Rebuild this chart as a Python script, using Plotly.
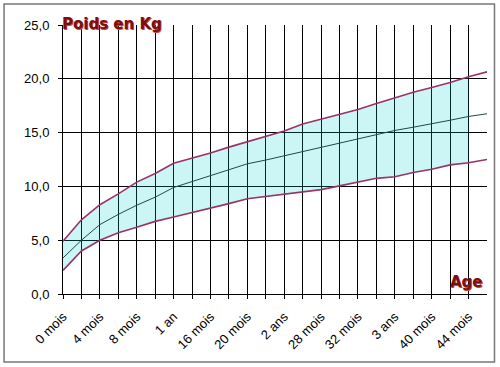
import plotly.graph_objects as go

months = [0, 2, 4, 6, 8, 10, 12, 14, 16, 18, 20, 22, 24, 26, 28, 30, 32, 34, 36, 38, 40, 42, 44, 46]
upper = [4.9, 6.9, 8.3, 9.3, 10.4, 11.2, 12.15, 12.6, 13.1, 13.65, 14.15, 14.6, 15.15, 15.8, 16.25, 16.7, 17.15, 17.7, 18.25, 18.75, 19.2, 19.65, 20.2, 20.65]
middle = [3.35, 5.0, 6.45, 7.4, 8.25, 9.0, 9.9, 10.45, 10.95, 11.5, 12.1, 12.45, 12.85, 13.25, 13.6, 14.0, 14.45, 14.8, 15.2, 15.5, 15.8, 16.15, 16.5, 16.75]
lower = [2.2, 4.0, 5.0, 5.7, 6.2, 6.75, 7.15, 7.55, 7.95, 8.4, 8.85, 9.05, 9.3, 9.5, 9.7, 10.05, 10.4, 10.75, 10.9, 11.3, 11.6, 12.0, 12.2, 12.5]

tick_vals = [0, 4, 8, 12, 16, 20, 24, 28, 32, 36, 40, 44]
tick_text = ["0 mois", "4 mois", "8 mois", "1 an", "16 mois", "20 mois", "2 ans",
             "28 mois", "32 mois", "3 ans", "40 mois", "44 mois"]
grid_x = [2, 4, 6, 8, 10, 12, 14, 16, 18, 20, 22, 24, 26, 28, 30, 32, 34, 36, 38, 40, 42, 44]
y_ticks = [0, 5, 10, 15, 20, 25]
grid_y = [5, 10, 15, 20]

fill_n = len(months) - 1  # band is filled up to 44 mois

LINE = "#993366"
fig = go.Figure()
fig.add_trace(go.Scatter(x=months[:fill_n], y=lower[:fill_n], mode="lines",
                         line=dict(width=0), hoverinfo="skip", showlegend=False))
fig.add_trace(go.Scatter(x=months[:fill_n], y=upper[:fill_n], mode="lines",
                         line=dict(width=0), fill="tonexty",
                         fillcolor="rgba(0,205,205,0.2)", hoverinfo="skip", showlegend=False))
fig.add_trace(go.Scatter(x=months, y=lower, mode="lines",
                         line=dict(color=LINE, width=1.6), showlegend=False))
fig.add_trace(go.Scatter(x=months, y=middle, mode="lines",
                         line=dict(color="#1f4a4a", width=1), showlegend=False))
fig.add_trace(go.Scatter(x=months, y=upper, mode="lines",
                         line=dict(color=LINE, width=1.6), showlegend=False))

L, R, T, B = 63, 12.5, 25, 73
W, H = 500, 367
pw, ph = W - L - R, H - T - B

def px_x(p):
    return (p - L) / pw

def px_y(p):
    return (H - B - p) / ph

fig.update_layout(
    width=W, height=H,
    margin=dict(l=L, r=R, t=T, b=B, autoexpand=False),
    paper_bgcolor="white", plot_bgcolor="white",
    separators=",.",
    font=dict(family="Liberation Sans, Arial, sans-serif", size=13, color="black"),
    xaxis=dict(
        range=[0, 46], tickvals=tick_vals, ticktext=tick_text, tickangle=-45,
        automargin=False, ticklabelstandoff=5,
        showgrid=False, zeroline=False, showline=True, linecolor="black", linewidth=1,
        ticks="outside", ticklen=4, tickcolor="black",
        minor=dict(tickvals=grid_x, showgrid=True, gridcolor="black", gridwidth=1,
                   ticks="outside", ticklen=4, tickcolor="black"),
        tickfont=dict(size=13),
    ),
    yaxis=dict(
        range=[0, 25], tickvals=y_ticks, tickformat=".1f", automargin=False,
        showgrid=False, zeroline=False, showline=True, linecolor="black", linewidth=1,
        ticks="outside", ticklen=4, tickcolor="black", ticklabelstandoff=6,
        minor=dict(tickvals=grid_y, showgrid=True, gridcolor="black", gridwidth=1),
        tickfont=dict(size=13),
    ),
    shapes=[dict(type="rect", xref="paper", yref="paper",
                 x0=px_x(4), x1=px_x(495), y0=px_y(362), y1=px_y(4),
                 line=dict(color="#777777", width=1.5), fillcolor="rgba(0,0,0,0)",
                 layer="above")],
)

TITLE_FONT = "DejaVu Sans, Arial Black, sans-serif"
for dx, dy, col in [(1, -1, "#d84040"), (0, 0, "#781010")]:
    fig.add_annotation(text="<b>Poids en Kg</b>", xref="paper", yref="paper",
                       x=px_x(60), y=px_y(24), xanchor="left", yanchor="middle",
                       xshift=dx, yshift=dy, showarrow=False,
                       font=dict(family=TITLE_FONT, size=15, color=col))
    fig.add_annotation(text="<b>Age</b>", xref="paper", yref="paper",
                       x=px_x(485), y=px_y(281.5), xanchor="right", yanchor="middle",
                       xshift=dx, yshift=dy, showarrow=False,
                       font=dict(family=TITLE_FONT, size=15, color=col))

fig.write_html("out.html", config={"displayModeBar": False},
               post_script="document.body.style.margin='0';")
